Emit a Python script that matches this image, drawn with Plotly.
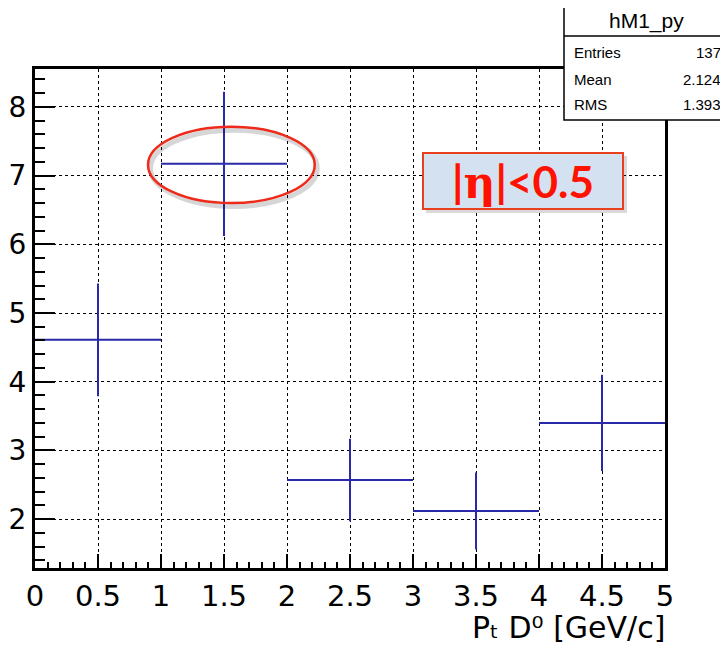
import plotly.graph_objects as go

# ---- data ----
bin_edges = [0, 1, 2, 3, 4, 5]
bin_contents = [4.61, 7.17, 2.57, 2.12, 3.40]
bin_errors = [0.82, 1.05, 0.60, 0.56, 0.70]
x_tick_vals = [0, 0.5, 1, 1.5, 2, 2.5, 3, 3.5, 4, 4.5, 5]
x_tick_text = ["0", "0.5", "1", "1.5", "2", "2.5", "3", "3.5", "4", "4.5", "5"]
y_tick_vals = [2, 3, 4, 5, 6, 7, 8]
y_tick_text = ["2", "3", "4", "5", "6", "7", "8"]
stats_name = "hM1_py"
stats_labels = ["Entries", "Mean", "RMS"]
stats_values = ["137", "2.124", "1.393"]
x_title = "P\u209c D\u2070 [GeV/c]"
label_text = "|<span style='font-family:DejaVu Serif'>\u03b7</span>|<0.5"

centers = [(a + b) / 2 for a, b in zip(bin_edges[:-1], bin_edges[1:])]
half_w = [(b - a) / 2 for a, b in zip(bin_edges[:-1], bin_edges[1:])]

# page has an 8px body margin; figure is sized so screen coords match
OFF = 8
W, H = 720, 638
L, R, T, B = 27, 63, 61, 78
PW, PH = W - L - R, H - T - B


def px(xs):
    """screen x -> paper x"""
    return (xs - OFF - L) / PW


def py(ys):
    """screen y -> paper y"""
    return (H - B - (ys - OFF)) / PH


BLUE = "#2a2aa8"
FONT = "DejaVu Sans, Liberation Sans, Arial, sans-serif"
SFONT = "Liberation Sans, Arial, Helvetica, sans-serif"

fig = go.Figure()
fig.add_trace(go.Scatter(
    x=centers, y=bin_contents, mode="markers",
    marker=dict(size=1, color=BLUE, opacity=0),
    error_x=dict(type="data", array=half_w, symmetric=True, width=0,
                 color=BLUE, thickness=2),
    error_y=dict(type="data", array=bin_errors, symmetric=True, width=0,
                 color=BLUE, thickness=2),
    showlegend=False, hoverinfo="skip",
))

fig.update_layout(
    width=W, height=H,
    margin=dict(l=L, r=R, t=T, b=B, autoexpand=False),
    paper_bgcolor="white", plot_bgcolor="white",
    font=dict(family=FONT, color="black"),
    showlegend=False,
)

fig.update_xaxes(
    range=[0, 5], tickvals=x_tick_vals, ticktext=x_tick_text,
    ticks="inside", ticklen=14, tickwidth=2, tickcolor="black",
    minor=dict(dtick=0.1, ticks="inside", ticklen=6, tickwidth=1.5,
               tickcolor="black", showgrid=False),
    showgrid=True, gridcolor="black", griddash="dot", gridwidth=1,
    showline=True, linecolor="black", linewidth=3, mirror=True,
    zeroline=False, tickfont=dict(size=29, family=FONT),
    ticklabelstandoff=0, automargin=False,
)
fig.update_yaxes(
    range=[1.29, 8.55], tickvals=y_tick_vals, ticktext=y_tick_text,
    ticks="inside", ticklen=20, tickwidth=2, tickcolor="black",
    minor=dict(dtick=0.2, ticks="inside", ticklen=10, tickwidth=1.5,
               tickcolor="black", showgrid=False),
    showgrid=True, gridcolor="black", griddash="dot", gridwidth=1,
    showline=True, linecolor="black", linewidth=3, mirror=True,
    zeroline=False, tickfont=dict(size=28, family=FONT),
    ticklabelstandoff=0, automargin=False,
)

# x-axis title (right aligned)
fig.add_annotation(
    text=x_title, xref="paper", yref="paper", x=px(667), y=py(627),
    xanchor="right", yanchor="middle", showarrow=False,
    font=dict(size=30, family=FONT, color="black"),
)

shapes = []
# highlight ellipse around the 1-2 GeV/c bin (with soft shadow)
ell = dict(x0=0.897, x1=2.22, y0=6.60, y1=7.71)
shapes.append(dict(type="circle", xref="x", yref="y",
                   x0=ell["x0"] + 0.02, x1=ell["x1"] + 0.02,
                   y0=ell["y0"] - 0.05, y1=ell["y1"] - 0.05,
                   line=dict(color="rgba(0,0,0,0.16)", width=5), layer="above"))
shapes.append(dict(type="circle", xref="x", yref="y", **ell,
                   line=dict(color="#ee2a1a", width=2.5), layer="above"))

# eta label box (with shadow)
shapes.append(dict(type="rect", xref="paper", yref="paper",
                   x0=px(426), x1=px(627), y0=py(213), y1=py(156),
                   fillcolor="rgba(0,0,0,0.15)", line=dict(width=0), layer="above"))
shapes.append(dict(type="rect", xref="paper", yref="paper",
                   x0=px(423), x1=px(623), y0=py(209), y1=py(153),
                   fillcolor="#d3e1f1", line=dict(color="#e8401f", width=2),
                   layer="above"))

# stats box
sb_x0, sb_x1, sb_y0, sb_y1, sb_sep = 564, 740, 6, 120, 36
shapes.append(dict(type="rect", xref="paper", yref="paper",
                   x0=px(sb_x0), x1=px(sb_x1), y0=py(sb_y1), y1=py(sb_y0),
                   fillcolor="white", line=dict(color="black", width=1.5),
                   layer="above"))
shapes.append(dict(type="line", xref="paper", yref="paper",
                   x0=px(sb_x0), x1=px(sb_x1), y0=py(sb_sep), y1=py(sb_sep),
                   line=dict(color="black", width=1.5), layer="above"))
fig.update_layout(shapes=shapes)

fig.add_annotation(
    text=label_text, xref="paper", yref="paper", x=px(523), y=py(181),
    xanchor="center", yanchor="middle", showarrow=False,
    font=dict(size=44, family="Lato, Open Sans, sans-serif", color="#ff1200",
              weight="bold"),
)

fig.add_annotation(
    text=stats_name, xref="paper", yref="paper", x=px(646), y=py(21),
    xanchor="center", yanchor="middle", showarrow=False,
    font=dict(size=21, family=SFONT, color="black"),
)
row_y = [52, 79, 105]
for lab, val, ry in zip(stats_labels, stats_values, row_y):
    fig.add_annotation(text=lab, xref="paper", yref="paper", x=px(572), y=py(ry),
                       xanchor="left", yanchor="middle", showarrow=False,
                       font=dict(size=15, family=SFONT, color="black"))
    fig.add_annotation(text=val, xref="paper", yref="paper", x=px(723), y=py(ry),
                       xanchor="right", yanchor="middle", showarrow=False,
                       font=dict(size=15, family=SFONT, color="black"))

fig.write_html("out.html")
